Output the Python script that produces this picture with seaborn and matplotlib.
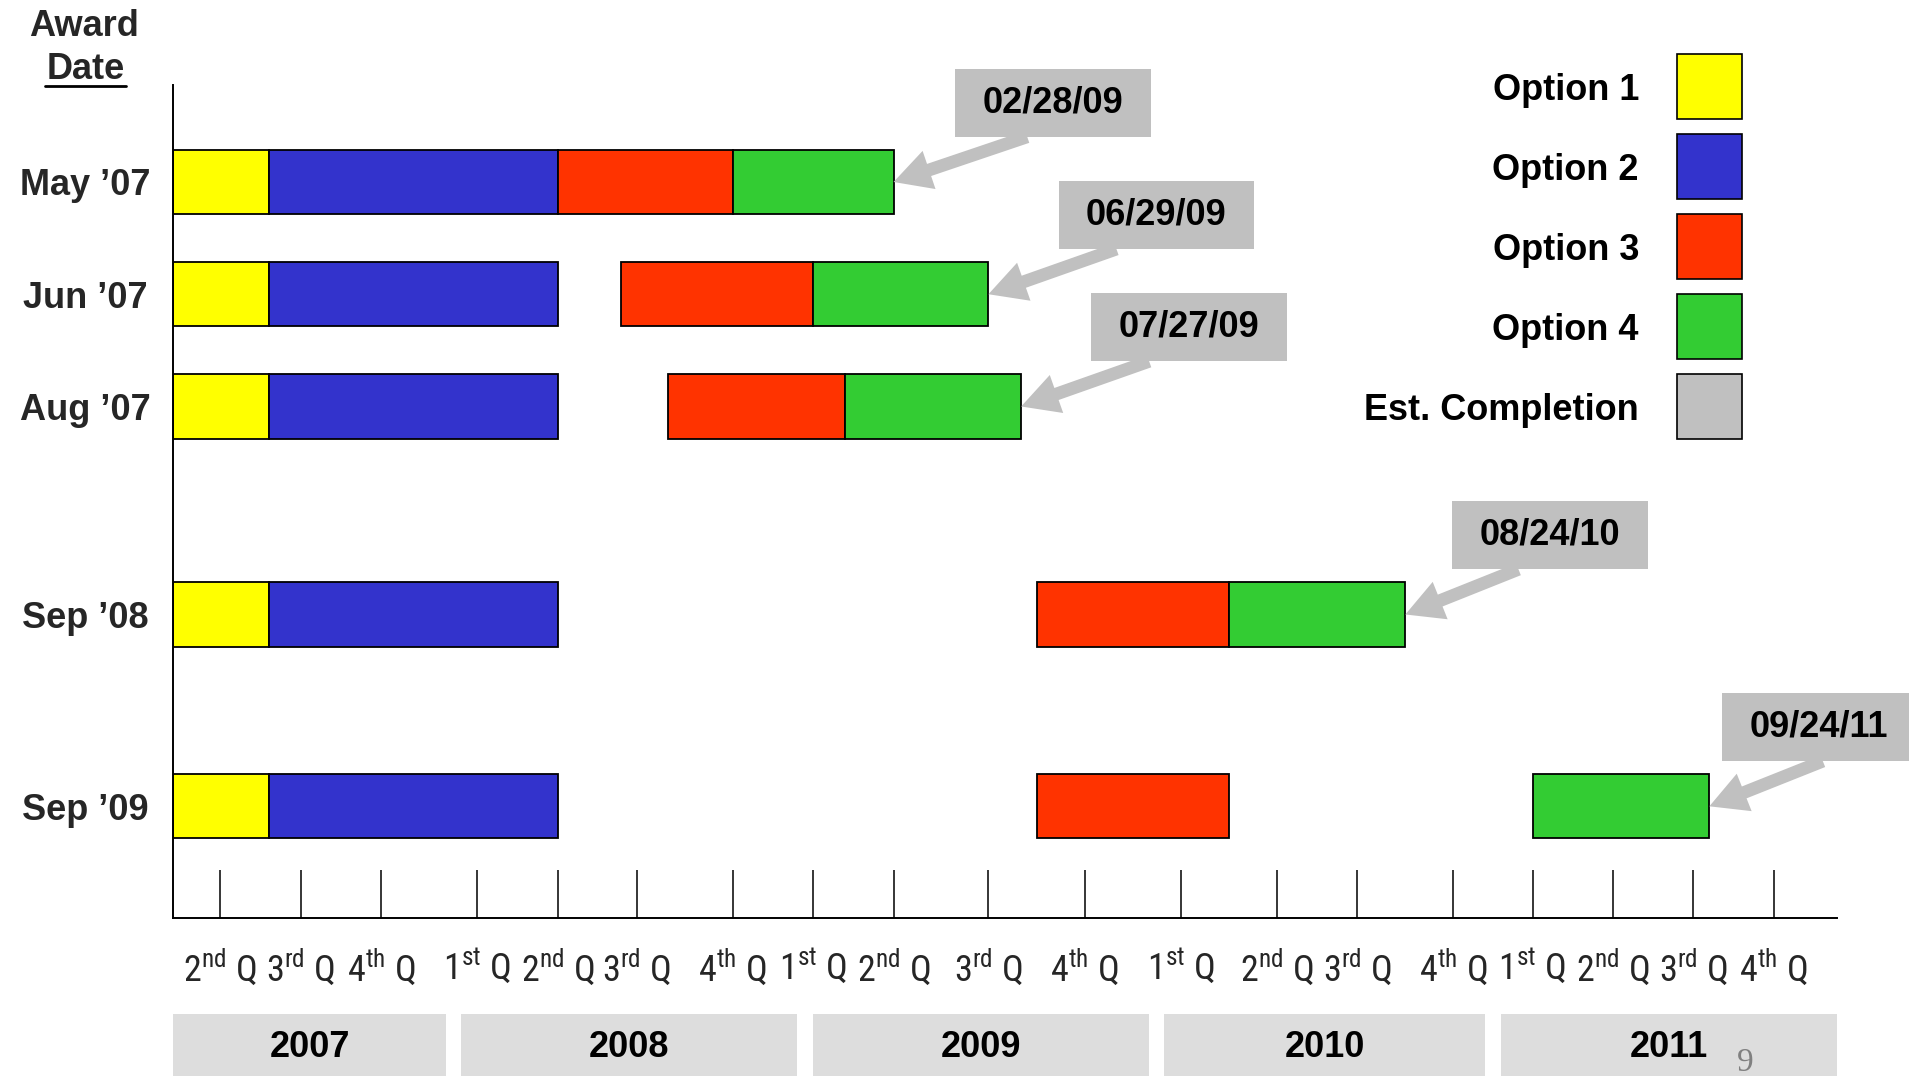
import numpy as np
import matplotlib
matplotlib.use("Agg")
import matplotlib.pyplot as plt
import matplotlib.transforms as mtransforms
from matplotlib import font_manager
from matplotlib.patches import Rectangle
from matplotlib.lines import Line2D
import seaborn as sns

# quarter index: 0 = 2nd Q 2007 ... 18 = 4th Q 2011
award_dates = ["May ’07", "Jun ’07", "Aug ’07", "Sep ’08", "Sep ’09"]
opt1_start = [-0.59, -0.59, -0.59, -0.59, -0.59]
opt1_end = [0.6, 0.6, 0.6, 0.6, 0.6]
opt2_end = [4.0, 4.0, 4.0, 4.0, 4.0]
opt3_start = [4.0, 4.8, 5.33, 9.5, 9.5]
opt3_end = [6.0, 7.0, 7.4, 11.5, 11.5]
opt4_start = [6.0, 7.0, 7.4, 11.5, 15.0]
opt4_end = [8.0, 9.0, 9.34, 13.5, 17.2]
completion = ["02/28/09", "06/29/09", "07/27/09", "08/24/10", "09/24/11"]

quarter_labels = ["2nd", "3rd", "4th"] + ["1st", "2nd", "3rd", "4th"] * 4
years = ["2007", "2008", "2009", "2010", "2011"]
legend_labels = ["Option 1", "Option 2", "Option 3", "Option 4", "Est. Completion"]
colors = ["#FFFF00", "#3333CC", "#FF3300", "#33CC33", "#C0C0C0"]

# layout (hand drawn slide: quarter ticks are not evenly spaced)
row_pos = [0, 1, 2, 3.853, 5.562]
tick_px = [140.1, 220.4, 300.7, 381.1, 477.3, 557.6, 636.8, 733.0, 813.3, 893.7, 988.6,
           1084.8, 1181.0, 1277.2, 1357.5, 1453.7, 1532.8, 1613.2, 1693.6, 1773.9, 1854.2]
year_span = [(-0.59, 2.68), (2.83, 6.8), (7.0, 10.67), (10.83, 14.4), (14.6, 18.79)]
callout_offset = [(115, 57), (121, 57), (121, 57), (104, 57), (79, 57)]
callout_relpos = [0.33, 0.23, 0.23, 0.29, 0.54]

W, H = 1909, 1076

sns.set_theme(style="white")
plt.rcParams["font.family"] = ["Liberation Sans", "DejaVu Sans"]

# narrow font for the quarter labels, if one is installed
fonts = font_manager.fontManager.ttflist
names = {f.name for f in fonts}
q_font = dict(fontfamily="Liberation Sans", fontsize=22)
for nm in ["Liberation Sans Narrow", "Arial Narrow", "Roboto Condensed"]:
    if nm in names:
        q_font = dict(fontfamily=nm, fontsize=26)
        break
else:
    for f in fonts:
        if f.name in ("Noto Sans", "Roboto", "Open Sans") and f.stretch == "condensed" \
                and f.style == "normal" and f.weight in (400, "normal", "regular"):
            q_font = dict(fontfamily=f.name, fontstretch="condensed", fontsize=26)
            break

fig = plt.figure(figsize=(W / 100, H / 100), dpi=100)
ax = fig.add_axes([173 / W, 1 - 918 / H, (1837 - 173) / W, (918 - 85) / H])

q_idx = np.arange(-1, 20)
fwd = lambda q: np.interp(q, q_idx, tick_px)
inv = lambda p: np.interp(p, tick_px, q_idx)
ax.set_xscale("function", functions=(fwd, inv))

y = np.array(row_pos)
kw = dict(height=0.573, edgecolor="black", linewidth=1.3)
ax.barh(y, np.subtract(opt1_end, opt1_start), left=opt1_start, color=colors[0], **kw)
ax.barh(y, np.subtract(opt2_end, opt1_end), left=opt1_end, color=colors[1], **kw)
ax.barh(y, np.subtract(opt3_end, opt3_start), left=opt3_start, color=colors[2], **kw)
ax.barh(y, np.subtract(opt4_end, opt4_start), left=opt4_start, color=colors[3], **kw)

ax.set_xlim(-0.59, 18.79)
ax.set_ylim(6.557, -0.864)

ax.set_xticks(range(len(quarter_labels)))
ax.set_xticklabels([f"{q[0]}$^{{\\mathregular{{{q[1:]}}}}}$ Q" for q in quarter_labels],
                   **q_font)
ax.tick_params(axis="x", bottom=True, direction="in", length=34.2, width=1.1,
               color="black", pad=22)
ax.set_yticks(row_pos)
ax.set_yticklabels(award_dates, fontsize=26, fontweight="bold")
ax.tick_params(axis="y", left=False, length=0, pad=63.4)
for lab in ax.get_yticklabels():
    lab.set_ha("center")

sns.despine(ax=ax)
for s in ["left", "bottom"]:
    ax.spines[s].set_color("black")
    ax.spines[s].set_linewidth(1.4)

# legend: labels right aligned, colour squares on the right
for i, (lab, c) in enumerate(zip(legend_labels, colors)):
    top = 54 + 80 * i
    fig.add_artist(Rectangle((1677 / W, 1 - (top + 64.7) / H), 64.7 / W, 64.7 / H,
                             transform=fig.transFigure, facecolor=c,
                             edgecolor="black", linewidth=1.2))
    fig.text(1639 / W, 1 - (top + 46) / H, lab, ha="right", va="baseline",
             fontsize=26, fontweight="bold", color="black")

# year band under the quarter labels
blend = mtransforms.blended_transform_factory(ax.transData, ax.transAxes)
for yr, (a, b) in zip(years, year_span):
    ax.add_patch(Rectangle((a, -0.3), b - a, 0.3 - 0.1152, transform=blend,
                           facecolor="#DDDDDD", edgecolor="none", clip_on=False))
    ax.text(inv((fwd(a) + fwd(b)) / 2), -0.1555, yr, transform=blend, ha="center",
            va="center", fontsize=26, fontweight="bold", color="black")

# estimated completion callouts
for i, lab in enumerate(completion):
    ax.annotate(lab, xy=(opt4_end[i], row_pos[i]), xytext=callout_offset[i],
                textcoords="offset points", ha="center", va="center",
                fontsize=26, fontweight="bold", color="black",
                bbox=dict(boxstyle="square,pad=0.76", mutation_aspect=0.6,
                          fc="#C0C0C0", ec="none"),
                arrowprops=dict(arrowstyle="simple,head_length=1.35,head_width=1.45,tail_width=0.46",
                                mutation_scale=20, fc="#C0C0C0", ec="none",
                                relpos=(callout_relpos[i], -0.45), shrinkA=0, shrinkB=0),
                annotation_clip=False)

# header and page number
fig.text(84 / W, 1 - 36 / H, "Award", ha="center", va="baseline", fontsize=26, fontweight="bold")
fig.text(85.5 / W, 1 - 79.3 / H, "Date", ha="center", va="baseline", fontsize=26, fontweight="bold")
fig.add_artist(Line2D([45 / W, 126 / W], [1 - 86 / H] * 2, color="black", lw=2))
fig.text(1745 / W, 1 - 1071 / H, "9", ha="center", va="baseline", fontsize=24,
         family="Liberation Serif", color="#808080")

fig.savefig("out.png", dpi=100)
